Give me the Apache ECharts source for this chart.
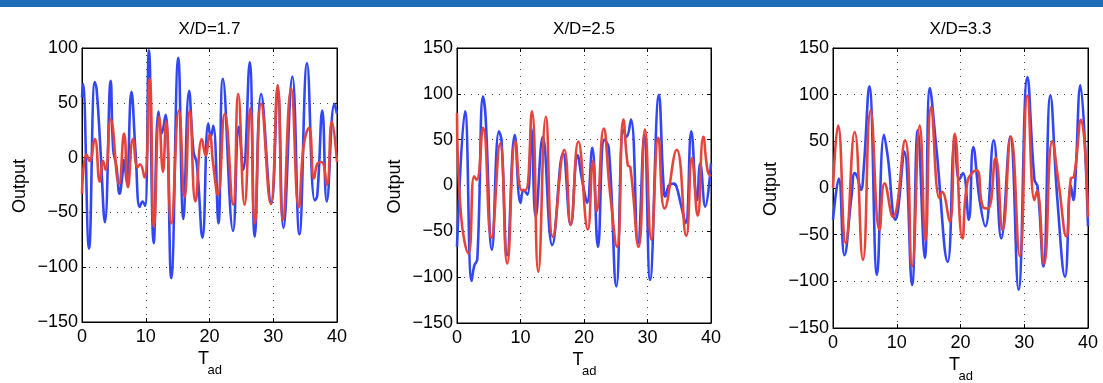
<!DOCTYPE html>
<html><head><meta charset="utf-8">
<script src="https://cdn.jsdelivr.net/npm/echarts@6/dist/echarts.min.js"></script>
<style>html,body{margin:0;padding:0;background:#fff}#c{width:1103px;height:383px}</style>
</head><body><div id="c"></div><script>
// ---- data ----
const titles = ['X/D=1.7', 'X/D=2.5', 'X/D=3.3'];
const xMin = 0, xMax = 40, xStep = 10;
const yMins = [-150, -150, -150];
const yMaxs = [100, 150, 150];
const yStep = 50;

const p1Blue = [[0,55],[0.15,67],[1.1,-83],[2.0,69],[2.3,62],[2.9,7],[3.6,-59],[4.5,70],[4.9,7],[5.4,-8],[5.9,-33],[6.3,-18],[6.6,-2],[7.0,-22],[7.75,60],[8.4,5],[9.05,-45],[9.5,-40],[9.9,-44],[10.5,98],[11.25,-78],[12.0,42],[12.5,22],[13.1,39],[14.0,-110],[15.1,91],[15.9,-56],[16.8,61],[17.5,5],[18.0,-5],[18.9,-73],[19.8,31],[20.2,19],[20.6,29],[21.4,-60],[22.1,72],[23.7,-67],[24.6,28],[25.3,-11],[26.3,87],[27.1,-72],[28.1,58],[29.7,-42],[30.7,63],[31.6,-64],[33.0,74],[34.1,-70],[35.3,86],[36.5,-39],[36.9,-35],[37.7,43],[38.4,-40],[39.6,49],[40,40]];
const p1Red = [[0,-33],[0.7,3],[1.2,-3],[2.0,17],[2.8,-22],[3.3,-3],[3.7,-11],[4.5,35],[5.8,-24],[6.6,22],[7.2,-27],[8.0,17],[8.7,-9],[9.1,-6],[9.8,-18],[10.6,72],[11.3,-63],[12.1,37],[12.7,-13],[13.2,33],[14.0,-60],[15.2,43],[16.1,-36],[16.9,43],[17.8,-40],[18.8,17],[19.4,2],[20.0,21],[20.6,-7],[21.3,-34],[22.4,40],[23.7,-43],[24.5,58],[25.5,-43],[26.4,45],[27.1,-60],[28.1,49],[29.6,-42],[30.7,66],[31.5,-57],[32.8,63],[34.0,-45],[34.8,12],[35.6,27],[36.4,-19],[37.0,-5],[37.6,-4],[38.4,-25],[39.2,33],[40,-4]];

const p2Blue = [[0,-67],[1.26,81],[2.3,-104],[2.7,-88],[3.2,-80],[4.1,97],[4.5,75],[5.5,-70],[6.6,59],[7.0,50],[7.9,-76],[9.1,55],[10.0,-19],[10.5,-5],[11.1,-10],[11.7,62],[12.4,-34],[13.5,53],[15.0,-65],[16.7,35],[17.9,-43],[19.0,33],[19.6,10],[20.2,-12],[20.5,-19],[21.3,41],[22.2,-67],[23.2,50],[23.9,41],[25.1,-110],[26.2,61],[26.7,53],[27.4,72],[28.5,-63],[29.5,55],[30.4,-103],[31.8,99],[32.5,3],[32.8,-12],[33.4,0],[34.2,2],[34.6,-2],[35.2,-19],[36.0,-41],[36.9,59],[37.8,-16],[38.3,24],[39.1,-23],[40,24]];
const p2Red = [[0,79],[0.6,-30],[1.8,-74],[2.7,10],[3.1,6],[4.1,63],[5.4,-57],[6.8,46],[7.9,-85],[9.2,48],[10.2,-5],[10.8,-5],[11.8,81],[12.8,-94],[14.0,75],[15.1,-56],[16.9,39],[17.9,-43],[19.1,48],[20.6,-48],[21.4,27],[22.0,-28],[23.1,62],[24.1,-8],[25.2,-67],[26.2,72],[26.9,22],[27.3,20],[28.6,-67],[29.6,61],[30.6,-59],[31.7,52],[32.7,-25],[34.6,39],[36.1,-55],[37.0,30],[37.9,-33],[38.8,53],[39.5,15],[40,10]];

const p3Blue = [[0,-34],[0.9,10],[1.8,-72],[2.9,-9],[3.4,16],[3.8,12],[4.4,-2],[4.8,19],[5.7,109],[6.9,-93],[8.0,57],[8.6,33],[9.8,-34],[10.2,-24],[11.2,39],[12.4,-104],[13.3,62],[14.4,-75],[15.2,107],[16.2,44],[18.0,-79],[19.1,51],[19.8,9],[20.4,16],[21.3,-34],[22.0,44],[23.0,-13],[23.9,-41],[25.2,51],[26.4,-54],[27.8,55],[29.1,-109],[30.5,119],[31.6,9],[32.1,1],[33.0,-84],[34.1,99],[35.2,-13],[36.4,-95],[37.3,3],[37.7,-13],[38.0,7],[38.8,110],[40,-41]];
const p3Red = [[0,0],[0.8,67],[2.0,-59],[3.4,60],[4.7,-77],[5.9,83],[7.3,-45],[8.1,5],[9.4,-31],[11.3,51],[12.4,-84],[13.6,67],[14.5,-56],[15.4,87],[16.7,-11],[17.1,-4],[18.3,-36],[19.1,58],[20.3,-54],[21.1,7],[22.5,19],[23.5,-20],[24.3,-22],[25.5,32],[26.6,-45],[27.9,55],[29.3,-73],[30.5,99],[31.6,-13],[32.0,-3],[33.1,-81],[34.4,50],[35.4,5],[36.6,-52],[37.3,10],[37.8,12],[38.9,73],[40,-31]];

const blueSets = [p1Blue, p2Blue, p3Blue];
const redSets = [p1Red, p2Red, p3Red];

// ---- layout ----
const grids = [
  {left: 82, top: 48, width: 255, height: 274},
  {left: 457, top: 48, width: 254, height: 275},
  {left: 833, top: 48, width: 255, height: 280}
];
const FONT = 'Liberation Sans, Arial, Helvetica, sans-serif';
const BLUE = '#3247f3', RED = '#e6443a';
const minus = v => String(v).replace('-', '\u2212');

const xAxis = [], yAxis = [], series = [], graphic = [];
graphic.push({type: 'rect', shape: {x: 0, y: 0, width: 1103, height: 7}, style: {fill: '#1d6eb7'}, silent: true});

grids.forEach((g, i) => {
  const common = {
    gridIndex: i, type: 'value',
    axisLine: {show: true, onZero: false, lineStyle: {color: '#000', width: 1}},
    axisTick: {show: true, inside: true, length: 4, lineStyle: {color: '#000'}}
  };
  xAxis.push(Object.assign({}, common, {
    position: 'bottom', min: xMin, max: xMax, interval: xStep,
    axisLabel: {color: '#000', fontSize: 18, fontFamily: FONT, margin: 6},
    splitLine: {show: true, lineStyle: {color: '#444', width: 1, type: [1, 6]}}
  }));
  yAxis.push(Object.assign({}, common, {
    position: 'left', min: yMins[i], max: yMaxs[i], interval: yStep,
    axisLabel: {color: '#000', fontSize: 18, fontFamily: FONT, margin: 4, formatter: minus},
    splitLine: {show: true, lineStyle: {color: '#444', width: 1, type: [1, 6]}}
  }));
});
grids.forEach((g, i) => {
  xAxis.push({gridIndex: i, type: 'value', position: 'top', min: xMin, max: xMax, interval: xStep,
    axisLine: {show: true, onZero: false, lineStyle: {color: '#000'}},
    axisTick: {show: true, inside: true, length: 4, lineStyle: {color: '#000'}},
    axisLabel: {show: false}, splitLine: {show: false}});
  yAxis.push({gridIndex: i, type: 'value', position: 'right', min: yMins[i], max: yMaxs[i], interval: yStep,
    axisLine: {show: true, onZero: false, lineStyle: {color: '#000'}},
    axisTick: {show: true, inside: true, length: 4, lineStyle: {color: '#000'}},
    axisLabel: {show: false}, splitLine: {show: false}});
});

grids.forEach((g, i) => {
  series.push({type: 'line', xAxisIndex: i, yAxisIndex: i, data: blueSets[i], smooth: 0.45,
    symbol: 'none', lineStyle: {color: BLUE, width: 2.6}, z: 2});
  series.push({type: 'line', xAxisIndex: i, yAxisIndex: i, data: redSets[i], smooth: 0.5,
    symbol: 'none', lineStyle: {color: RED, width: 2.6}, z: 3});
  const cx = g.left + g.width / 2;
  const bottom = g.top + g.height;
  graphic.push({type: 'text', x: cx, y: 29.5, style: {text: titles[i], align: 'center', verticalAlign: 'middle', font: '17px ' + FONT, fill: '#000'}});
  graphic.push({type: 'text', x: g.left - 62, y: g.top + g.height / 2 + 1, rotation: Math.PI / 2,
    style: {text: 'Output', align: 'center', verticalAlign: 'middle', font: '18px ' + FONT, fill: '#000'}});
  graphic.push({type: 'text', x: cx - 6, y: bottom + 37, style: {text: 'T', align: 'center', verticalAlign: 'middle', font: '18px ' + FONT, fill: '#000'}});
  graphic.push({type: 'text', x: cx - 2, y: bottom + 48, style: {text: 'ad', align: 'left', verticalAlign: 'middle', font: '13px ' + FONT, fill: '#000'}});
});

const chart = echarts.init(document.getElementById('c'), null, {renderer: 'canvas'});
chart.setOption({
  animation: false,
  backgroundColor: '#fff',
  grid: grids.map(g => Object.assign({show: true, borderColor: '#000', borderWidth: 1, backgroundColor: 'transparent'}, g)),
  xAxis, yAxis, series, graphic
});
</script></body></html>
